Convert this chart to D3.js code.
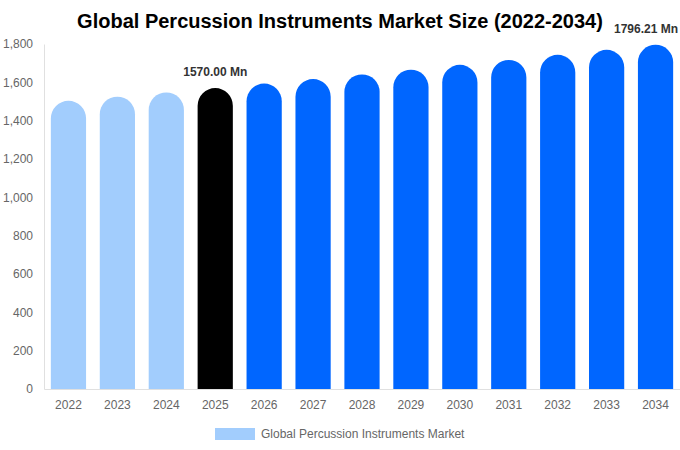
<!DOCTYPE html>
<html>
<head>
<meta charset="utf-8">
<script src="https://cdn.jsdelivr.net/npm/d3@7"></script>
<style>
  body { margin: 0; background: #fff; }
  svg { font-family: "Liberation Sans", Arial, sans-serif; }
</style>
</head>
<body>
<div id="chart-container"></div>
<script>
   const years = ["2022", "2023", "2024", "2025", "2026", "2027", "2028", "2029", "2030", "2031", "2032", "2033", "2034"];
   const values = [1503.4, 1525.0, 1547.3, 1570.00, 1593.4, 1617.2, 1641.5, 1666.2, 1691.5, 1717.2, 1743.3, 1769.6, 1796.21];
   const yTicks = [0, 200, 400, 600, 800, 1000, 1200, 1400, 1600, 1800];
   const labelled = ["2025", "2034"];

   const margin = { right: 0, top: 44, left: 44, bottom: 61 };
   const width = 680 - margin.left - margin.right;
   const height = 450 - margin.top - margin.bottom;

   const colorFor = (yr) => {
       if (+yr < 2025) return "#a2cdfd";
       if (+yr === 2025) return "#000000";
       return "#0066ff";
   };

   const x = d3.scaleBand()
       .domain(years)
       .range([0, width])
       .paddingInner(0.28)
       .paddingOuter(0.14);

   const y = d3.scaleLinear()
       .domain([0, 1800])
       .range([height, 0]);

   const root = d3.select("#chart-container")
       .append("svg")
       .attr("width", 680)
       .attr("height", 450);

   root.append("text")
       .attr("x", 340)
       .attr("y", 28)
       .attr("text-anchor", "middle")
       .attr("font-size", 20)
       .attr("font-weight", "bold")
       .attr("fill", "#000")
       .text("Global Percussion Instruments Market Size (2022-2034)");

   const svg = root.append("g")
       .attr("transform", `translate(${margin.left},${margin.top})`);

   // y axis
   const yAxis = svg.append("g")
       .call(d3.axisLeft(y).tickValues(yTicks).tickSize(0).tickPadding(11).tickFormat(d3.format(",")));
   yAxis.select(".domain").attr("stroke", "#e0e0e0");
   yAxis.selectAll("text").attr("fill", "#666").attr("font-size", 12);

   // x axis
   const xAxis = svg.append("g")
       .attr("transform", `translate(0,${height})`)
       .call(d3.axisBottom(x).tickSize(0).tickPadding(11));
   xAxis.select(".domain").attr("stroke", "#e0e0e0");
   xAxis.selectAll("text").attr("fill", "#666").attr("font-size", 12);

   // bars with round tops
   const bw = x.bandwidth();
   const r = bw / 2;
   svg.selectAll(".bar")
       .data(years)
       .enter()
       .append("path")
       .attr("class", "bar")
       .attr("fill", d => colorFor(d))
       .attr("d", (d, i) => {
           const x0 = x(d);
           const yt = y(values[i]);
           const yb = y(0);
           return `M${x0},${yb} L${x0},${yt + r} A${r},${r} 0 0 1 ${x0 + bw},${yt + r} L${x0 + bw},${yb} Z`;
       });

   // value labels (last one kept inside the right edge)
   svg.selectAll(".val")
       .data(years.filter(d => labelled.includes(d)))
       .enter()
       .append("text")
       .attr("class", "val")
       .attr("x", d => d === years[years.length - 1] ? width - 2 : x(d) + bw / 2)
       .attr("y", d => y(values[years.indexOf(d)]) - 12)
       .attr("text-anchor", d => d === years[years.length - 1] ? "end" : "middle")
       .attr("font-size", 12)
       .attr("font-weight", "bold")
       .attr("fill", "#333")
       .text(d => values[years.indexOf(d)].toFixed(2) + " Mn");

   // legend
   const legend = root.append("g")
       .attr("transform", "translate(215,428)");
   legend.append("rect")
       .attr("width", 40)
       .attr("height", 12)
       .attr("fill", "#a2cdfd");
   legend.append("text")
       .attr("x", 46)
       .attr("y", 10)
       .attr("font-size", 12)
       .attr("fill", "#666")
       .text("Global Percussion Instruments Market");
</script>
</body>
</html>
